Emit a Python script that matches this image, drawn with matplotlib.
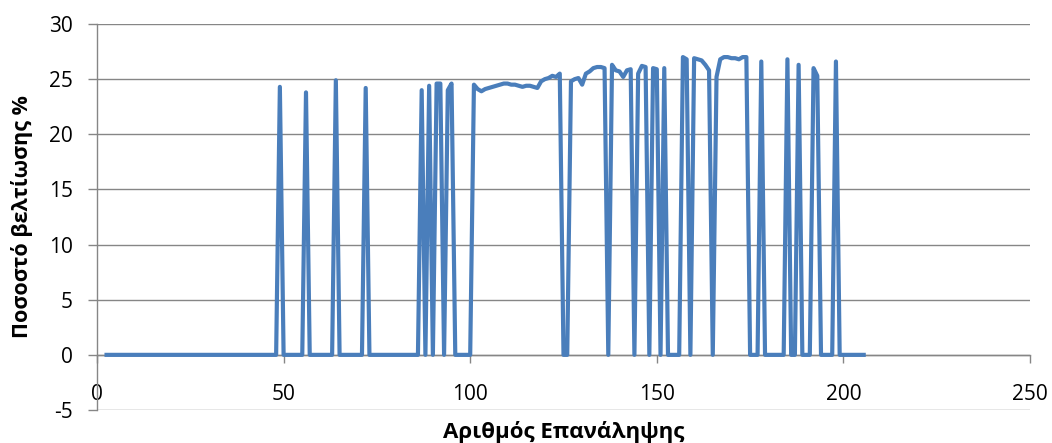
import matplotlib
matplotlib.use("Agg")
import matplotlib.pyplot as plt
import numpy as np

# Iteration numbers and improvement percentage per iteration
first_iteration = 2
improvement = [
    # 2-48
    0, 0, 0, 0, 0, 0, 0, 0, 0, 0, 0, 0, 0, 0, 0, 0, 0, 0, 0, 0,
    0, 0, 0, 0, 0, 0, 0, 0, 0, 0, 0, 0, 0, 0, 0, 0, 0, 0, 0, 0,
    0, 0, 0, 0, 0, 0, 0,
    # 49-72
    24.3, 0, 0, 0, 0, 0, 0, 23.8, 0, 0, 0, 0, 0, 0, 0, 24.9,
    0, 0, 0, 0, 0, 0, 0, 24.2,
    # 73-100
    0, 0, 0, 0, 0, 0, 0, 0, 0, 0, 0, 0, 0, 0,
    24.0, 0, 24.4, 0, 24.6, 24.6, 0, 24.0, 24.6, 0, 0, 0, 0, 0,
    # 101-124
    24.5, 24.1, 23.9, 24.1, 24.2, 24.3, 24.4, 24.5, 24.6, 24.6,
    24.5, 24.5, 24.4, 24.3, 24.4, 24.4, 24.3, 24.2, 24.8, 25.0,
    25.1, 25.3, 25.2, 25.5,
    # 125-156
    0, 0, 24.8, 25.0, 25.1, 24.5, 25.5, 25.7, 26.0, 26.1,
    26.1, 26.0, 0, 26.3, 25.8, 25.7, 25.2, 25.8, 25.9, 0,
    25.5, 26.2, 26.1, 0, 26.0, 25.9, 0, 26.0, 0, 0, 0, 0,
    # 157-178
    27.0, 26.8, 0, 26.9, 26.8, 26.7, 26.3, 25.8, 0, 25.2,
    26.8, 27.0, 27.0, 26.9, 26.9, 26.8, 27.0, 27.0, 0, 0, 0, 26.6,
    # 179-206
    0, 0, 0, 0, 0, 0, 26.8, 0, 0, 26.3, 0, 0, 0, 26.0, 25.3,
    0, 0, 0, 0, 26.6, 0, 0, 0, 0, 0, 0, 0, 0,
]
iterations = np.arange(first_iteration, first_iteration + len(improvement))

x_ticks = [0, 50, 100, 150, 200, 250]
y_ticks = [-5, 0, 5, 10, 15, 20, 25, 30]

x_title = "Αριθμός Επανάληψης"
y_title = "Ποσοστό βελτίωσης %"

line_color = "#4A7EBB"
grid_color = "#868686"

plt.rcParams["font.family"] = ["Open Sans", "DejaVu Sans"]
plt.rcParams["axes.unicode_minus"] = False

W, H = 1052, 443
fig = plt.figure(figsize=(W / 100, H / 100), dpi=100)
ax = fig.add_axes([97 / W, 1 - 410 / H, (1030 - 97) / W, (410 - 24) / H])

ax.plot(iterations, improvement, color=line_color, lw=3.0,
        solid_joinstyle="round", solid_capstyle="butt", zorder=3)

ax.set_xlim(x_ticks[0], x_ticks[-1])
ax.set_ylim(y_ticks[0], y_ticks[-1])
ax.set_xticks(x_ticks)
ax.set_yticks(y_ticks)

ax.yaxis.grid(True, color=grid_color, lw=1.0)
ax.set_axisbelow(True)

for side in ("top", "right"):
    ax.spines[side].set_visible(False)
ax.spines["left"].set_color(grid_color)
ax.spines["left"].set_linewidth(1.0)
ax.spines["bottom"].set_position(("data", 0))
ax.spines["bottom"].set_color(grid_color)
ax.spines["bottom"].set_linewidth(1.0)
ax.spines["bottom"].set_zorder(2)

ax.tick_params(axis="x", direction="out", length=6, width=1.0,
               color=grid_color, pad=15, labelsize=15, labelcolor="black")
ax.tick_params(axis="y", direction="out", length=6.5, width=1.0,
               color=grid_color, pad=11, labelsize=15, labelcolor="black")

fig.text(564 / W, 1 - 432 / H, x_title, ha="center", va="center",
         fontsize=16, fontweight="bold")
fig.text(22 / W, 1 - 217 / H, y_title, ha="center", va="center",
         rotation=90, fontsize=15.5, fontweight="bold")

fig.savefig("out.png", dpi=100, facecolor="white")
